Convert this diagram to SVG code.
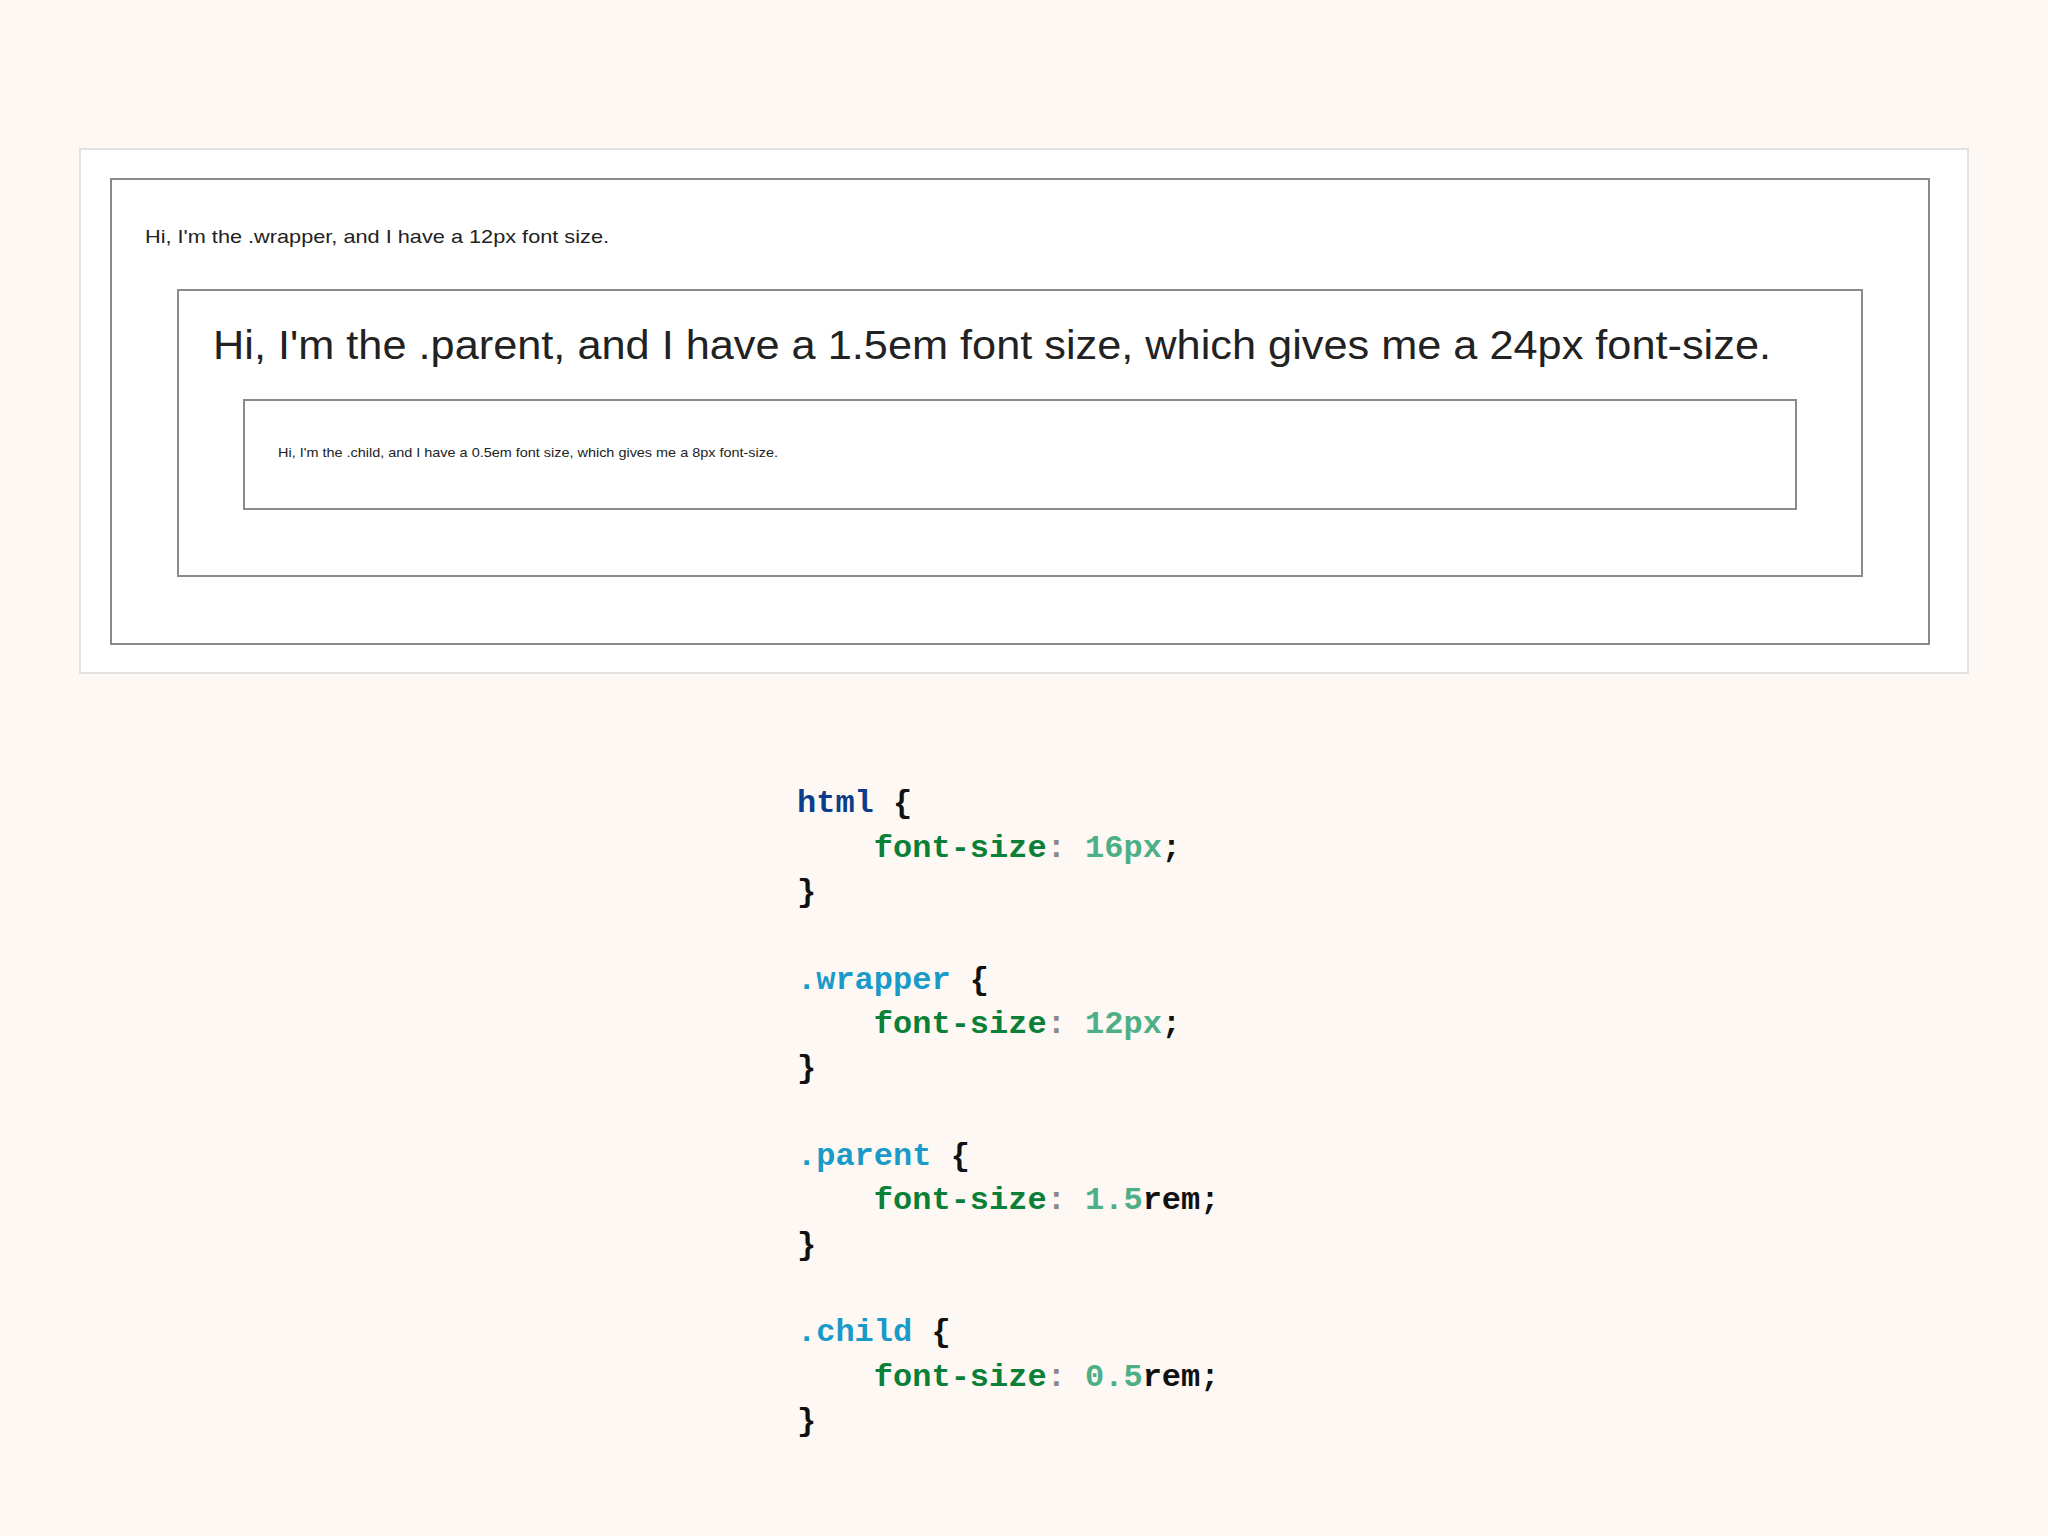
<svg xmlns="http://www.w3.org/2000/svg" width="2048" height="1536" viewBox="0 0 2048 1536">
<style>
.box{fill:none;stroke:#8a8a8a;stroke-width:2}
.s{font-family:"Liberation Sans",Arial,sans-serif;fill:#222}
.c{font-family:"Liberation Mono","Courier New",monospace;font-size:32px;font-weight:bold;fill:#111;white-space:pre}
.sel{fill:#0b3d8c}.cls{fill:#1a9ac9}.p{fill:#0a7f37}.col{fill:#888}.v{fill:#4caf85}
</style>
<rect width="2048" height="1536" fill="#fdf8f3"/>
<g id="panel">
<rect x="80" y="149" width="1888" height="524" fill="#fff" stroke="#e2e2e2" stroke-width="2"/>
</g>
<g id="wrapper">
<rect class="box" x="111" y="179" width="1818" height="465"/>
<text class="s" x="145" y="243" font-size="19" textLength="464" lengthAdjust="spacingAndGlyphs">Hi, I'm the .wrapper, and I have a 12px font size.</text>
</g>
<g id="parent">
<rect class="box" x="178" y="290" width="1684" height="286"/>
<text class="s" x="213" y="359" font-size="40" textLength="1558" lengthAdjust="spacingAndGlyphs">Hi, I'm the .parent, and I have a 1.5em font size, which gives me a 24px font-size.</text>
</g>
<g id="child">
<rect class="box" x="244" y="400" width="1552" height="109"/>
<text class="s" x="278" y="457" font-size="13" textLength="500" lengthAdjust="spacingAndGlyphs">Hi, I'm the .child, and I have a 0.5em font size, which gives me a 8px font-size.</text>
</g>
<g id="code">
<text class="c" x="797" y="812"><tspan class="sel">html</tspan> {</text>
<text class="c" x="797" y="857">    <tspan class="p">font-size</tspan><tspan class="col">:</tspan> <tspan class="v">16px</tspan>;</text>
<text class="c" x="797" y="901">}</text>
<text class="c" x="797" y="989"><tspan class="cls">.wrapper</tspan> {</text>
<text class="c" x="797" y="1033">    <tspan class="p">font-size</tspan><tspan class="col">:</tspan> <tspan class="v">12px</tspan>;</text>
<text class="c" x="797" y="1077">}</text>
<text class="c" x="797" y="1165"><tspan class="cls">.parent</tspan> {</text>
<text class="c" x="797" y="1209">    <tspan class="p">font-size</tspan><tspan class="col">:</tspan> <tspan class="v">1.5</tspan>rem;</text>
<text class="c" x="797" y="1254">}</text>
<text class="c" x="797" y="1341"><tspan class="cls">.child</tspan> {</text>
<text class="c" x="797" y="1386">    <tspan class="p">font-size</tspan><tspan class="col">:</tspan> <tspan class="v">0.5</tspan>rem;</text>
<text class="c" x="797" y="1430">}</text>
</g>
</svg>
